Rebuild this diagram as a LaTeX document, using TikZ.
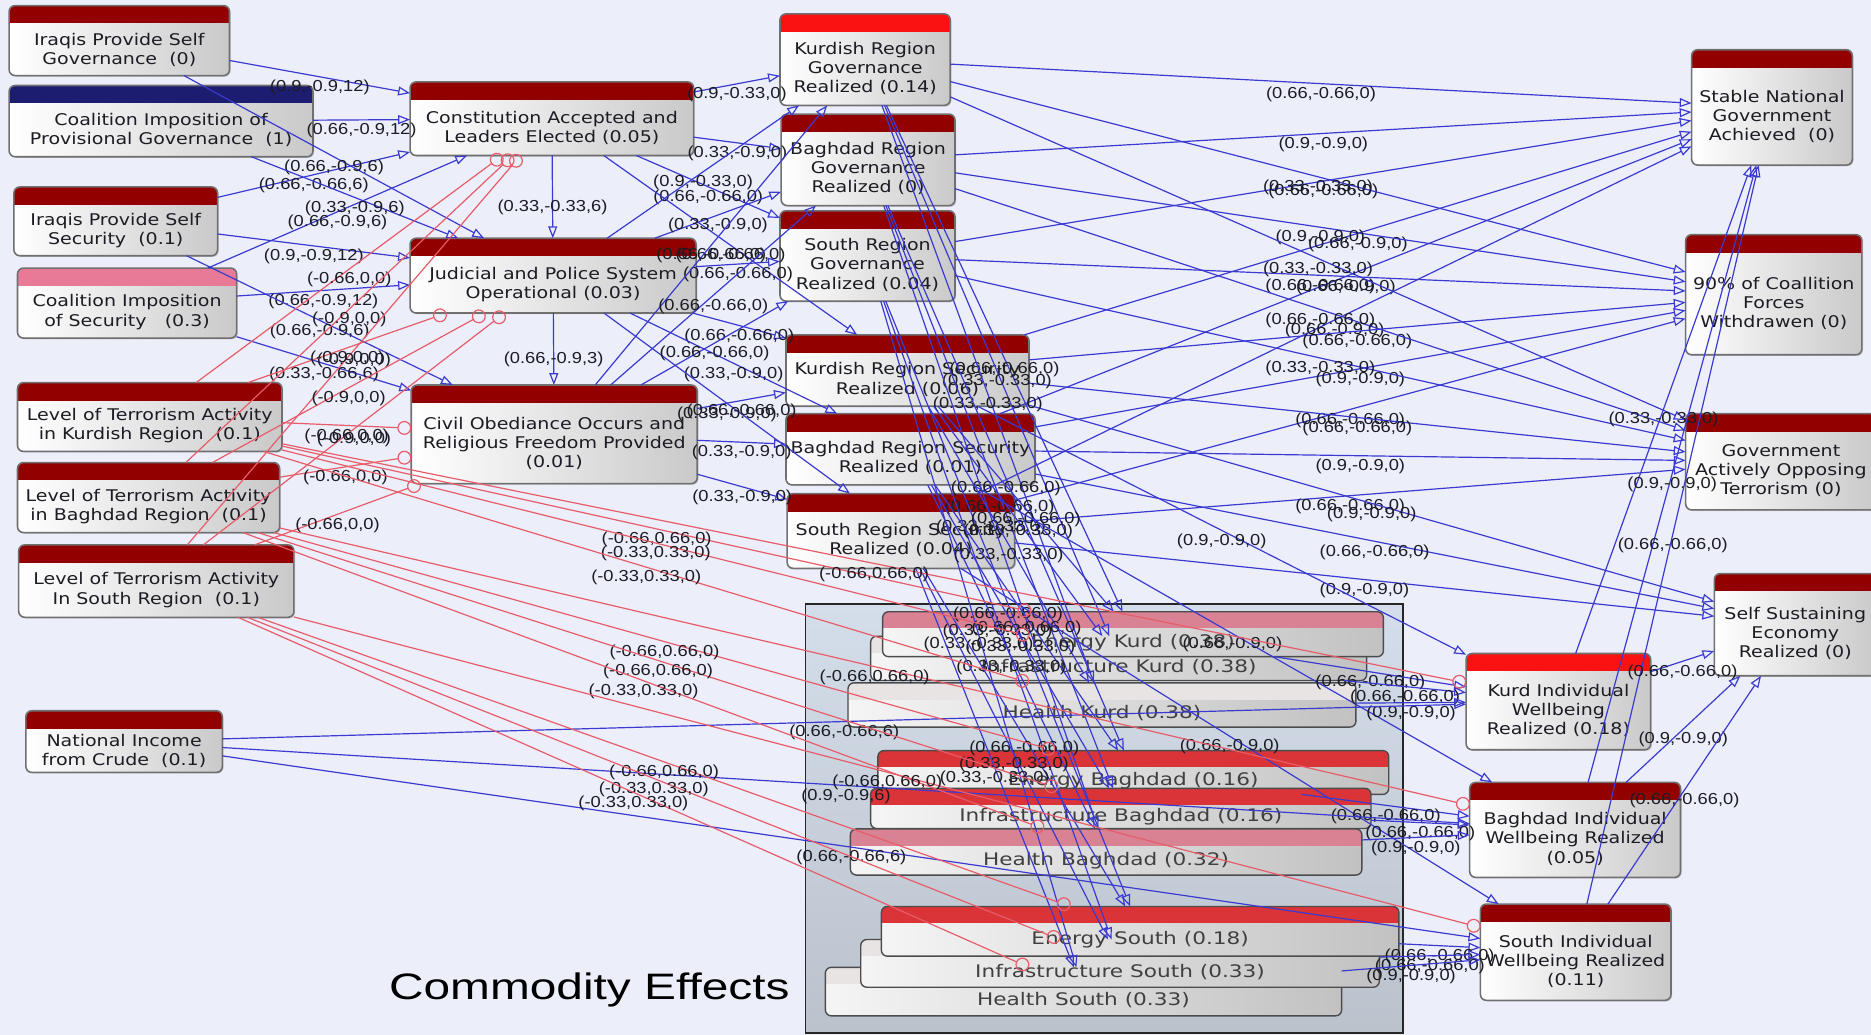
\documentclass[tikz,border=0pt]{standalone}
\usepackage{fontspec}
\setmainfont{DejaVu Sans}
\newfontfamily\nodefont[FakeStretch=1.18]{DejaVu Sans}
\newfontfamily\commfont[FakeStretch=1.25]{DejaVu Sans}
\newfontfamily\lblfont[FakeStretch=1.15]{Liberation Sans}
\newfontfamily\capfont[FakeStretch=1.3]{Liberation Sans}
\usetikzlibrary{arrows.meta,calc,fit,shadows}

\definecolor{canvas}{RGB}{236,238,250}
\definecolor{linkblue}{RGB}{58,58,208}
\definecolor{linkred}{RGB}{232,92,105}
\definecolor{hdark}{RGB}{146,0,0}
\definecolor{hbright}{RGB}{250,18,18}
\definecolor{hnavy}{RGB}{28,28,112}
\definecolor{hpink}{RGB}{232,122,152}
\definecolor{cpink}{RGB}{216,130,148}
\definecolor{cred}{RGB}{218,52,56}
\definecolor{clight}{RGB}{232,228,228}
\definecolor{boxtop}{RGB}{212,222,234}
\definecolor{boxbot}{RGB}{186,194,204}
\definecolor{nodeedge}{RGB}{112,112,112}
\definecolor{ink}{RGB}{28,28,36}

\tikzset{
  gbox/.style={rectangle, inner sep=0pt, rounded corners=3pt, left color=white, right color=gray!42,
    drop shadow={opacity=0.35, shadow xshift=0.8pt, shadow yshift=-0.8pt}},
  gline/.style={draw=nodeedge, line width=0.8pt, rounded corners=3pt},
  gtext/.style={font=\nodefont\fontsize{8.1}{9.6}\selectfont, text=ink, align=center, inner sep=0pt},
  cbox/.style={rectangle, inner sep=0pt, rounded corners=3pt, left color=gray!8, right color=gray!48},
  cline/.style={draw=gray!60!black, line width=0.7pt, rounded corners=3pt},
  ctext/.style={font=\commfont\fontsize{8.7}{10}\selectfont, text=black!75, inner sep=0pt},
  be/.style={draw=linkblue, line width=0.6pt, -{Triangle[open,length=6pt,width=4.5pt]}},
  re/.style={draw=linkred, line width=0.6pt, -{Circle[open,length=7pt]}},
  lbl/.style={font=\lblfont\fontsize{8}{9}\selectfont, text=ink, inner sep=0pt, pos=0.5, anchor=north, yshift=-1.3pt},
}

% goal/factor box: name, x1, y1, x2, y2, header colour, text
\newcommand{\gnode}[7]{%
  \node[gbox, fit={(#2,#3) (#4,#5)}] (#1) {};
  \begin{scope}
    \clip[rounded corners=3pt] (#1.north west) rectangle (#1.south east);
    \fill[#6] (#1.north west) rectangle ([yshift=-9pt]#1.north east);
  \end{scope}
  \draw[gline] (#1.north west) rectangle (#1.south east);
  \node[gtext] (#1t) at ($(#1.south)!0.5!([yshift=-9pt]#1.north)$) {#7};
}
% commodity box inside the commodity panel
\newcommand{\cnode}[7]{%
  \node[cbox, fit={(#2,#3) (#4,#5)}] (#1) {};
  \begin{scope}
    \clip[rounded corners=3pt] (#1.north west) rectangle (#1.south east);
    \fill[#6] (#1.north west) rectangle ([yshift=-8.4pt]#1.north east);
  \end{scope}
  \draw[cline] (#1.north west) rectangle (#1.south east);
  \node[ctext] (#1t) at ($(#1.south)!0.5!([yshift=-8.4pt]#1.north)$) {#7};
}
% positive (blue) and negative (red) influence links
\newcommand{\bedge}[3]{\draw[be] (#1) -- (#2) node[lbl] (l#1#2) {#3};}
\newcommand{\redge}[3]{\draw[re] (#1) -- (#2) node[lbl] (l#1#2) {#3};}

\begin{document}
\begin{tikzpicture}[x=0.6pt,y=-0.6pt]
\useasboundingbox (0,0) rectangle (1568,867);
\fill[canvas] (0,0) rectangle (1568,867);

% commodity panel
\node[draw=black!85, line width=0.9pt, top color=boxtop, bottom color=boxbot, inner sep=0pt,
      fit={(675,506) (1176,866)}] (commodity) {};
\node[font=\capfont\fontsize{18.5}{20}\selectfont, text=black, anchor=east, inner sep=0pt] (ctitle) at (662,830) {Commodity Effects};

\cnode{hk}{711}{572.6}{1136}{609}{clight}{Health Kurd (0.38)}
\cnode{ik}{730}{533.5}{1145}{570}{clight}{Infrastructure Kurd (0.38)}
\cnode{ek}{740}{513}{1159}{550}{cpink}{Energy Kurd (0.38)}
\cnode{eb}{736}{629.4}{1163.5}{665.4}{cred}{Energy Baghdad (0.16)}
\cnode{ib}{730}{661}{1148.6}{694}{cred}{Infrastructure Baghdad (0.16)}
\cnode{hb}{713}{695}{1141}{733}{cpink}{Health Baghdad (0.32)}
\cnode{hs}{692}{811}{1124}{851}{clight}{Health South (0.33)}
\cnode{is}{721.7}{787.7}{1155.6}{827}{clight}{Infrastructure South (0.33)}
\cnode{es}{739}{760}{1172}{801}{cred}{Energy South (0.18)}

% input factors
\gnode{n1}{8}{5}{192}{63}{hdark}{Iraqis Provide Self\\Governance\ \ (0)}
\gnode{n2}{8}{72}{262}{131}{hnavy}{Coalition Imposition of\\Provisional Governance\ \ (1)}
\gnode{n3}{12}{157}{182}{214}{hdark}{Iraqis Provide Self\\Security\ \ (0.1)}
\gnode{n4}{15}{225}{198}{283}{hpink}{Coalition Imposition\\of Security\ \ \ (0.3)}
\gnode{n5}{15}{321}{236}{378}{hdark}{Level of Terrorism Activity\\in Kurdish Region\ \ (0.1)}
\gnode{n6}{15}{388}{234}{446}{hdark}{Level of Terrorism Activity\\in Baghdad Region\ \ (0.1)}
\gnode{n7}{16}{457}{246}{517}{hdark}{Level of Terrorism Activity\\In South Region\ \ (0.1)}
\gnode{n8}{22}{596}{186}{647}{hdark}{National Income\\from Crude\ \ (0.1)}
% national institutions
\gnode{n9}{344}{69}{581}{130}{hdark}{Constitution Accepted and\\Leaders Elected (0.05)}
\gnode{n10}{344}{200}{583}{262}{hdark}{Judicial and Police System\\Operational (0.03)}
\gnode{n11}{345}{323}{584}{405}{hdark}{Civil Obediance Occurs and\\Religious Freedom Provided\\(0.01)}
% regional outcomes
\gnode{n12}{654}{12}{796}{88}{hbright}{Kurdish Region\\Governance\\Realized (0.14)}
\gnode{n13}{655}{96}{800}{172}{hdark}{Baghdad Region\\Governance\\Realized (0)}
\gnode{n14}{654}{177}{800}{252}{hdark}{South Region\\Governance\\Realized (0.04)}
\gnode{n15}{659}{281}{862}{340}{hdark}{Kurdish Region Security\\Realized (0.06)}
\gnode{n16}{659}{347}{867}{406}{hdark}{Baghdad Region Security\\Realized (0.01)}
\gnode{n17}{660}{414}{850}{476}{hdark}{South Region Security\\Realized (0.04)}
% end goals
\gnode{n18}{1418}{42}{1552}{138}{hdark}{Stable National\\Government\\Achieved\ \ (0)}
\gnode{n19}{1413}{197}{1560}{297}{hdark}{90\% of Coallition\\Forces\\Withdrawen (0)}
\gnode{n20}{1413}{347}{1572}{427}{hdark}{Government\\Actively Opposing\\Terrorism (0)}
\gnode{n21}{1437}{481}{1572}{566}{hdark}{Self Sustaining\\Economy\\Realized (0)}
% individual wellbeing
\gnode{n22}{1229}{548}{1383}{628}{hbright}{Kurd Individual\\Wellbeing\\Realized (0.18)}
\gnode{n23}{1232}{656}{1408}{735}{hdark}{Baghdad Individual\\Wellbeing Realized\\(0.05)}
\gnode{n24}{1241}{758}{1400}{838}{hdark}{South Individual\\Wellbeing Realized\\(0.11)}

% ---- links: inputs to national institutions
\bedge{n1}{n9}{(0.9,-0.9,12)}
\bedge{n2}{n9}{(0.66,-0.9,12)}
\bedge{n3}{n9}{(0.66,-0.66,6)}
\bedge{n4}{n9}{(0.66,-0.9,6)}
\bedge{n1}{n10}{(0.66,-0.9,6)}
\bedge{n2}{n10}{(0.33,-0.9,6)}
\bedge{n3}{n10}{(0.9,-0.9,12)}
\bedge{n4}{n10}{(0.66,-0.9,12)}
\bedge{n3}{n11}{(0.66,-0.9,6)}
\bedge{n4}{n11}{(0.33,-0.66,6)}
\bedge{n9}{n10}{(0.33,-0.33,6)}
\bedge{n10}{n11}{(0.66,-0.9,3)}
\redge{n5}{n9}{(-0.66,0,0)}
\redge{n6}{n9}{(-0.9,0,0)}
\redge{n7}{n9}{(-0.9,0,0)}
\redge{n5}{n10}{(-0.9,0,0)}
\redge{n6}{n10}{(-0.9,0,0)}
\redge{n7}{n10}{(-0.9,0,0)}
\redge{n5}{n11}{(-0.66,0,0)}
\redge{n6}{n11}{(-0.66,0,0)}
\redge{n7}{n11}{(-0.66,0,0)}

% ---- national institutions to regional outcomes
\bedge{n9}{n12}{(0.9,-0.33,0)}
\bedge{n9}{n13}{(0.33,-0.9,0)}
\bedge{n9}{n14}{(0.66,-0.66,0)}
\bedge{n9}{n15}{(0.66,-0.66,0)}
\bedge{n10}{n12}{(0.9,-0.33,0)}
\bedge{n10}{n13}{(0.33,-0.9,0)}
\bedge{n10}{n14}{(0.66,-0.66,0)}
\bedge{n10}{n15}{(0.66,-0.66,0)}
\bedge{n10}{n16}{(0.33,-0.9,0)}
\bedge{n10}{n17}{(0.33,-0.9,0)}
\bedge{n11}{n12}{(0.66,-0.66,0)}
\bedge{n11}{n13}{(0.66,-0.66,0)}
\bedge{n11}{n14}{(0.66,-0.66,0)}
\bedge{n11}{n15}{(0.66,-0.66,0)}
\bedge{n11}{n16}{(0.33,-0.9,0)}
\bedge{n11}{n17}{(0.33,-0.9,0)}

% ---- regional outcomes to end goals
\bedge{n12}{n18}{(0.66,-0.66,0)}
\bedge{n13}{n18}{(0.9,-0.9,0)}
\bedge{n14}{n18}{(0.66,-0.66,0)}
\bedge{n15}{n18}{(0.66,-0.9,0)}
\bedge{n16}{n18}{(0.66,-0.9,0)}
\bedge{n17}{n18}{(0.66,-0.9,0)}
\bedge{n12}{n19}{(0.33,-0.33,0)}
\bedge{n13}{n19}{(0.9,-0.9,0)}
\bedge{n14}{n19}{(0.66,-0.66,0)}
\bedge{n15}{n19}{(0.66,-0.66,0)}
\bedge{n16}{n19}{(0.9,-0.9,0)}
\bedge{n17}{n19}{(0.66,-0.66,0)}
\bedge{n12}{n20}{(0.33,-0.33,0)}
\bedge{n13}{n20}{(0.66,-0.66,0)}
\bedge{n14}{n20}{(0.33,-0.33,0)}
\bedge{n15}{n20}{(0.66,-0.66,0)}
\bedge{n16}{n20}{(0.9,-0.9,0)}
\bedge{n17}{n20}{(0.66,-0.66,0)}
\bedge{n15}{n21}{(0.9,-0.9,0)}
\bedge{n16}{n21}{(0.66,-0.66,0)}
\bedge{n17}{n21}{(0.9,-0.9,0)}

% ---- regional outcomes to commodities
\bedge{n12}{ek}{(0.66,-0.66,0)}
\bedge{n12}{ik}{(0.33,-0.33,0)}
\bedge{n12}{hk}{(0.33,-0.33,0)}
\bedge{n13}{eb}{(0.66,-0.66,0)}
\bedge{n13}{ib}{(0.66,-0.66,0)}
\bedge{n13}{hb}{(0.33,-0.33,0)}
\bedge{n14}{es}{(0.66,-0.66,0)}
\bedge{n14}{is}{(0.33,-0.33,0)}
\bedge{n14}{hs}{(0.33,-0.33,0)}
\bedge{n15}{ek}{(0.66,-0.66,0)}
\bedge{n15}{ik}{(0.33,-0.33,0)}
\bedge{n15}{hk}{(0.33,-0.33,0)}
\bedge{n16}{eb}{(0.66,-0.66,0)}
\bedge{n16}{ib}{(0.33,-0.33,0)}
\bedge{n16}{hb}{(0.33,-0.33,0)}
\bedge{n17}{es}{(0.66,-0.66,0)}
\bedge{n17}{is}{(0.33,-0.33,0)}
\bedge{n17}{hs}{(0.33,-0.33,0)}

% ---- security to individual wellbeing
\bedge{n15}{n22}{(0.9,-0.9,0)}
\bedge{n16}{n23}{(0.66,-0.9,0)}
\bedge{n17}{n24}{(0.66,-0.9,0)}

% ---- commodities to individual wellbeing
\bedge{ek}{n22}{(0.66,-0.66,0)}
\bedge{ik}{n22}{(0.66,-0.66,0)}
\bedge{hk}{n22}{(0.9,-0.9,0)}
\bedge{eb}{n23}{(0.66,-0.66,0)}
\bedge{ib}{n23}{(0.66,-0.66,0)}
\bedge{hb}{n23}{(0.9,-0.9,0)}
\bedge{es}{n24}{(0.66,-0.66,0)}
\bedge{is}{n24}{(0.66,-0.66,0)}
\bedge{hs}{n24}{(0.9,-0.9,0)}

% ---- individual wellbeing to end goals
\bedge{n22}{n18}{(0.33,-0.33,0)}
\bedge{n23}{n18}{(0.9,-0.9,0)}
\bedge{n24}{n18}{(0.66,-0.66,0)}
\bedge{n22}{n21}{(0.66,-0.66,0)}
\bedge{n23}{n21}{(0.9,-0.9,0)}
\bedge{n24}{n21}{(0.66,-0.66,0)}

% ---- national income
\bedge{n8}{n22}{(0.66,-0.66,6)}
\bedge{n8}{n23}{(0.9,-0.9,6)}
\bedge{n8}{n24}{(0.66,-0.66,6)}

% ---- terrorism against commodities and wellbeing
\redge{n5}{ek}{(-0.66,0.66,0)}
\redge{n5}{ik}{(-0.33,0.33,0)}
\redge{n5}{hk}{(-0.33,0.33,0)}
\redge{n6}{eb}{(-0.66,0.66,0)}
\redge{n6}{ib}{(-0.66,0.66,0)}
\redge{n6}{hb}{(-0.33,0.33,0)}
\redge{n7}{es}{(-0.66,0.66,0)}
\redge{n7}{is}{(-0.33,0.33,0)}
\redge{n7}{hs}{(-0.33,0.33,0)}
\redge{n5}{n22}{(-0.66,0.66,0)}
\redge{n6}{n23}{(-0.66,0.66,0)}
\redge{n7}{n24}{(-0.66,0.66,0)}
\end{tikzpicture}
\end{document}
